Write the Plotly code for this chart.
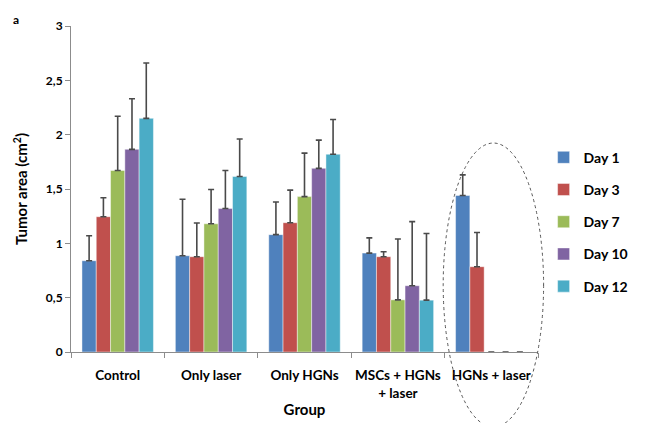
import plotly.graph_objects as go

groups = ["Control", "Only laser", "Only HGNs", "MSCs + HGNs<br>+ laser", "HGNs + laser"]
days = ["Day 1", "Day 3", "Day 7", "Day 10", "Day 12"]
colors = ["#4F81BD", "#C0504D", "#9BBB59", "#8064A2", "#4BACC6"]

day1 = [0.84, 0.886, 1.08, 0.91, 1.44]
day3 = [1.245, 0.877, 1.19, 0.877, 0.785]
day7 = [1.67, 1.18, 1.43, 0.48, 0.0]
day10 = [1.865, 1.32, 1.69, 0.61, 0.0]
day12 = [2.15, 1.615, 1.82, 0.477, 0.0]

err1 = [0.23, 0.52, 0.30, 0.14, 0.19]
err3 = [0.175, 0.31, 0.30, 0.045, 0.315]
err7 = [0.50, 0.315, 0.40, 0.56, 0.0]
err10 = [0.465, 0.35, 0.26, 0.59, 0.0]
err12 = [0.51, 0.345, 0.32, 0.613, 0.0]

yticks = [0, 0.5, 1, 1.5, 2, 2.5, 3]
yticktext = ["0", "0,5", "1", "1,5", "2", "2,5", "3"]

values = [day1, day3, day7, day10, day12]
errors = [err1, err3, err7, err10, err12]

fig = go.Figure()
for i, (name, vals, errs, col) in enumerate(zip(days, values, errors, colors)):
    fig.add_trace(go.Bar(
        x=groups, y=vals, name=name, legendgroup=name,
        marker=dict(color=col, line=dict(color="rgba(255,255,255,0.55)", width=0.8)),
        error_y=dict(type="data", array=errs, arrayminus=[0]*len(errs), symmetric=False,
                     color="#4a4a4a", thickness=1.6, width=3),
    ))

font_main = "Lato, 'Open Sans', sans-serif"

fig.update_layout(
    width=646, height=423,
    margin=dict(l=71, r=83, t=26, b=71),
    paper_bgcolor="white", plot_bgcolor="white",
    barmode="group", bargap=0.235, bargroupgap=0,
    font=dict(family=font_main, size=13, color="#000000"),
    showlegend=True,
    legend=dict(x=1.012, y=0.645, xanchor="left", yanchor="top",
                font=dict(size=14, family=font_main, weight="bold"),
                tracegroupgap=11, traceorder="grouped", itemwidth=30,
                bgcolor="rgba(0,0,0,0)"),
    xaxis=dict(
        showline=True, linecolor="#8c8c8c", linewidth=1,
        ticks="outside", tickson="boundaries", ticklen=5, tickcolor="#8c8c8c",
        tickfont=dict(size=13.5, family=font_main, weight="bold"),
        tickangle=0, automargin=False, ticklabelstandoff=11,
        title=dict(text="Group", font=dict(size=15, family=font_main, weight="bold"), standoff=4),
        showgrid=False,
    ),
    yaxis=dict(
        range=[0, 3], tickvals=yticks, ticktext=yticktext,
        showline=True, linecolor="#8c8c8c", linewidth=1,
        ticks="outside", ticklen=5, tickcolor="#8c8c8c",
        tickfont=dict(size=12, family=font_main, weight="bold"),
        title=dict(text="Tumor area (cm<sup>2</sup>)", font=dict(size=15, family=font_main, weight="bold"), standoff=14),
        showgrid=False, zeroline=False, automargin=False,
    ),
)

fig.add_shape(type="circle", xref="paper", yref="paper",
              x0=0.797, x1=1.012, y0=-0.230, y1=0.641,
              line=dict(color="#555555", width=1, dash="dot"))

fig.add_annotation(text="a", xref="paper", yref="paper", x=-0.118, y=1.02,
                   xanchor="center", yanchor="middle", showarrow=False,
                   font=dict(size=12, family=font_main, weight="bold"))

fig.write_html("out.html", config={"displayModeBar": False},
               post_script="document.body.style.margin='0';")
